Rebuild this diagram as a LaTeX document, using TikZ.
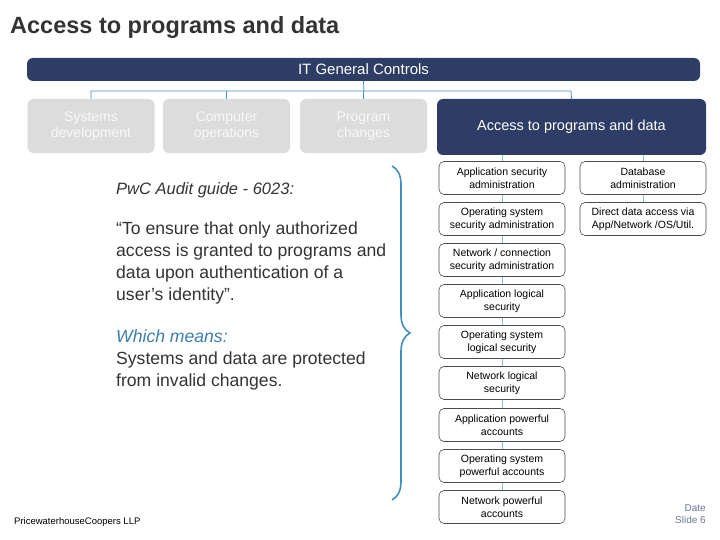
\documentclass[tikz,border=0pt]{standalone}
\usepackage{fontspec}
\setmainfont{Liberation Sans}
\usetikzlibrary{decorations.pathreplacing}
\definecolor{navy}{HTML}{2E3D66}
\definecolor{lgray}{HTML}{DCDCDC}
\definecolor{teal}{HTML}{3F8FBF}
\definecolor{txt}{HTML}{333333}
\begin{document}
\begin{tikzpicture}[x=1pt,y=-1pt,
  navybox/.style={fill=navy,rounded corners=6pt,text=white,align=center,inner sep=0},
  graybox/.style={fill=lgray,rounded corners=6pt,text=white!95!gray,align=center,inner sep=0,minimum width=127pt,minimum height=54pt,font=\fontsize{14}{16}\selectfont},
  item/.style={draw=black!70,line width=0.6pt,fill=white,rounded corners=5pt,align=center,inner sep=0,minimum width=126pt,minimum height=33pt,font=\fontsize{10.5}{13}\selectfont,text=black},
  link/.style={draw=teal,line width=0.8pt},
  body/.style={anchor=west,font=\fontsize{17.6}{21.7}\selectfont,text=txt,inner sep=0}]
\useasboundingbox (0,0) rectangle (720,540);
\node[anchor=west,font=\bfseries\fontsize{23.5}{26}\selectfont,text=txt,inner sep=0] (title) at (10,27) {Access to programs and data};
\node[navybox,minimum width=673pt,minimum height=23pt,font=\fontsize{15}{17}\selectfont] (itgc) at (363.5,69.5) {IT General Controls};
\coordinate (j) at (364,91);
\node[graybox] (sd) at (91,126) {Systems\\development};
\node[graybox] (co) at (226.5,126) {Computer\\operations};
\node[graybox] (pc) at (363.5,126) {Program\\changes};
\node[navybox,minimum width=269pt,minimum height=56pt,font=\fontsize{14.5}{17}\selectfont] (acc) at (571.5,127) {Access to programs and data};
\draw[link] (itgc.south) -- (j);
\draw[link] (sd.north) -- (91,91) -- (571,91) -- (acc.north);
\draw[link] (co.north) -- (226.5,91);
\draw[link] (pc.north) -- (363.5,91);
\draw[link,draw=teal!60] (502,155) -- (502,490);
\draw[link,draw=teal!60] (643,155) -- (643,205);
\node[item] (a1) at (502,178) {Application security\\administration};
\node[item] (a2) at (502,219) {Operating system\\security administration};
\node[item] (a3) at (502,260) {Network / connection\\security administration};
\node[item] (a4) at (502,301) {Application logical\\security};
\node[item] (a5) at (502,342) {Operating system\\logical security};
\node[item] (a6) at (502,383) {Network logical\\security};
\node[item] (a7) at (502,425) {Application powerful\\accounts};
\node[item] (a8) at (502,466) {Operating system\\powerful accounts};
\node[item] (a9) at (502,507) {Network powerful\\accounts};
\node[item] (b1) at (643,178) {Database\\administration};
\node[item] (b2) at (643,219) {Direct data access via\\App/Network /OS/Util.};
\node[body,font=\itshape\fontsize{16.5}{20}\selectfont] (pwc) at (116,190) {PwC Audit guide - 6023:};
\node[body,anchor=north west,align=left] (q) at (116,222) {“To ensure that only authorized\\access is granted to programs and\\data upon authentication of a\\user's identity”.};
\node[body,anchor=north west,align=left] (w) at (116,330) {\textcolor{teal!80!navy}{\itshape Which means:}\\Systems and data are protected\\from invalid changes.};
\draw[teal,line width=1.6pt,decorate,decoration={brace,amplitude=18pt}] (392,166) -- (392,500);
\node[anchor=west,font=\fontsize{9.5}{11}\selectfont,inner sep=0] (foot) at (14,522) {PricewaterhouseCoopers LLP};
\node[anchor=east,align=right,font=\fontsize{10}{12}\selectfont,text=navy!70,inner sep=0] (date) at (706,514) {Date\\Slide 6};
\end{tikzpicture}
\end{document}
